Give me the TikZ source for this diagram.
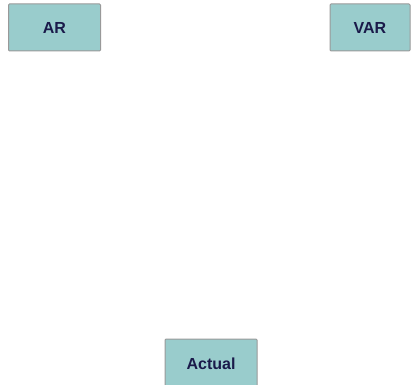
\documentclass[tikz,border=0pt]{standalone}
\usepackage{fontspec}
\setmainfont{Liberation Sans}
\definecolor{boxfill}{HTML}{99CCCC}
\definecolor{boxline}{HTML}{999999}
\definecolor{txt}{HTML}{1A1A4A}
\begin{document}
\begin{tikzpicture}[x=1pt,y=-1pt,
  lbl/.style={draw=boxline,line width=1pt,fill=boxfill,text=txt,font=\fontsize{16}{18}\selectfont\bfseries,inner sep=0pt,rounded corners=1pt}]
\useasboundingbox (0,0) rectangle (412,385);
\node[lbl,minimum width=92pt,minimum height=47pt] (ar) at (54.5,27.5) {AR};
\node[lbl,minimum width=80pt,minimum height=47pt] (var) at (370,27.5) {VAR};
\node[lbl,minimum width=92pt,minimum height=50pt] (actual) at (211,364) {Actual};
\end{tikzpicture}
\end{document}
